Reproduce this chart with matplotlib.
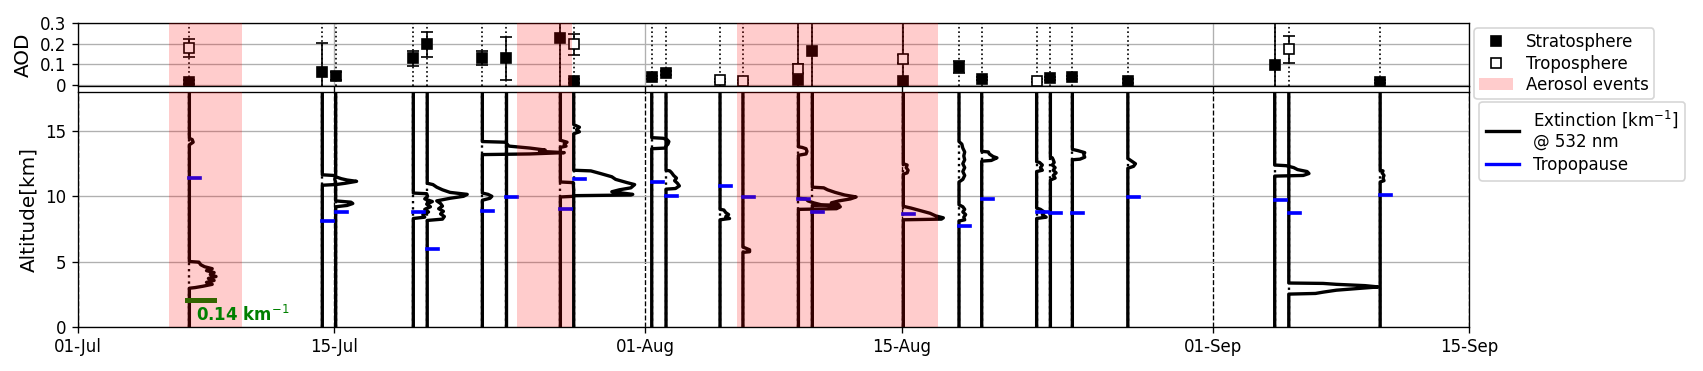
import numpy as np
import matplotlib
matplotlib.use("Agg")
import matplotlib.pyplot as plt
import matplotlib.dates as mdates
from matplotlib.lines import Line2D
from matplotlib.patches import Patch
from datetime import datetime

# days after 01-Jul for each lidar profile
days = [6.10, 13.36, 14.09, 18.33, 19.09, 22.10, 23.37, 26.36, 27.09, 31.35,
        32.13, 35.08, 36.33, 39.36, 40.12, 45.09, 48.13, 49.37, 52.37, 53.12,
        54.32, 57.35, 65.37, 66.14, 71.13]
trop_z = [11.38, 8.13, 8.8, 8.77, 5.93, 8.85, 9.92, 9.0, 11.3, 11.1,
          10.0, 10.8, 9.92, 9.77, 8.8, 8.62, 7.7, 9.77, 8.77, 8.7,
          8.7, 9.92, 9.7, 8.7, 10.08]
nan = np.nan
strat_aod = [0.013, 0.064, 0.044, 0.128, 0.197, 0.13, 0.128, 0.226, 0.018, 0.036,
             0.056, nan, nan, 0.021, 0.164, 0.018, 0.087, 0.03, nan, 0.031,
             0.036, 0.018, 0.098, nan, 0.015]
strat_err = [0.008, 0.142, 0.02, 0.039, 0.06, 0.033, 0.107, 0.4, 0.008, 0.008,
             0.01, nan, nan, 0.4, 0.4, 0.4, 0.03, 0.008, nan, 0.008,
             0.008, 0.008, 0.4, nan, 0.008]
trop_aod = [0.18, nan, nan, nan, nan, nan, nan, nan, 0.197, nan,
            nan, 0.021, 0.016, 0.079, nan, 0.125, nan, nan, 0.02, nan,
            nan, nan, nan, 0.172, nan]
trop_err = [0.044, nan, nan, nan, nan, nan, nan, nan, 0.053, nan,
            nan, 0.008, 0.008, 0.02, nan, 0.02, nan, nan, 0.008, nan,
            nan, nan, nan, 0.065, nan]

# aerosol layers: altitude [km] and extinction [km-1] for each profile
layer_z = [
    [2.95, 3.0, 3.1, 3.25, 3.4, 3.55, 3.7, 3.85, 4.0, 4.15, 4.3, 4.45, 4.6, 4.75, 4.85, 4.95, 5.0,
     13.95, 14.15, 14.35, 14.45],
    [10.85, 10.9, 11.1, 11.3, 11.5, 11.6, 11.65],
    [9.2, 9.3, 9.45, 9.55, 9.65, 10.9, 11.0, 11.15, 11.25, 11.35, 11.5],
    [8.3, 8.4, 8.6, 8.8, 9.0, 9.2, 9.4, 9.6, 9.8, 10.0, 10.2, 10.25],
    [8.15, 8.25, 8.45, 8.65, 8.85, 9.05, 9.25, 9.45, 9.65, 9.85, 10.0, 10.15, 10.3, 10.5, 10.7, 10.9, 11.0],
    [9.7, 9.85, 10.0, 10.15, 10.25, 13.2, 13.25, 13.35, 13.45, 13.55, 13.7, 13.85, 14.0, 14.15, 14.2],
    [],
    [9.95, 10.0, 10.5, 11.05, 11.1, 13.75, 13.85, 14.0, 14.15, 14.3],
    [10.05, 10.1, 10.15, 10.35, 10.5, 10.65, 10.9, 11.05, 11.3, 11.5, 11.75, 11.95, 12.0,
     14.8, 14.95, 15.1, 15.3, 15.5],
    [13.65, 13.7, 13.85, 14.0, 14.2, 14.35, 14.45, 14.5],
    [10.55, 10.6, 10.8, 11.0, 11.2, 11.4, 11.6, 11.8, 11.95, 12.0],
    [8.2, 8.3, 8.45, 8.6, 8.75, 8.95, 9.0],
    [5.7, 5.75, 5.9, 6.05, 6.1],
    [9.0, 9.05, 9.2, 9.35, 9.5, 9.65, 9.8, 9.85, 13.15, 13.25, 13.45, 13.65, 13.75, 13.8],
    [9.3, 9.35, 9.5, 9.65, 9.8, 9.95, 10.1, 10.3, 10.5, 10.65, 10.7],
    [8.2, 8.25, 8.35, 8.5, 8.7, 8.9, 9.1, 9.2, 9.25, 11.7, 11.8, 12.0, 12.2, 12.4, 12.5],
    [8.1, 8.2, 8.4, 8.6, 8.8, 9.0, 9.2, 9.35, 11.1, 11.3, 11.6, 11.9, 12.2, 12.5, 12.8, 13.1,
     13.4, 13.7, 14.0, 14.2],
    [12.7, 12.75, 12.95, 13.05, 13.25, 13.4, 13.45],
    [8.3, 8.4, 8.6, 8.8, 9.0, 9.1, 11.9, 12.0, 12.2, 12.4, 12.6, 12.65],
    [11.25, 11.4, 11.6, 11.8, 12.0, 12.2, 12.4, 12.6, 12.8, 12.95, 13.0],
    [12.8, 12.85, 13.0, 13.2, 13.35, 13.5, 13.6],
    [12.15, 12.3, 12.5, 12.7, 12.9],
    [11.55, 11.6, 11.75, 11.9, 12.05, 12.2, 12.35, 12.4],
    [2.5, 2.55, 2.65, 2.8, 2.95, 3.05, 3.15, 3.25, 3.32, 3.35],
    [11.1, 11.2, 11.4, 11.6, 11.8, 11.95, 12.0],
]
layer_ext = [
    [0, 0.03, 0.07, 0.12, 0.09, 0.13, 0.10, 0.14, 0.11, 0.13, 0.09, 0.12, 0.08, 0.06, 0.055, 0.05, 0,
     0, 0.02, 0.015, 0],
    [0, 0.065, 0.07, 0.065, 0.07, 0.06, 0],
    [0, 0.06, 0.09, 0.08, 0, 0, 0.05, 0.11, 0.06, 0.03, 0],
    [0, 0.06, 0.05, 0.08, 0.06, 0.09, 0.07, 0.1, 0.06, 0.075, 0.07, 0],
    [0, 0.08, 0.09, 0.07, 0.085, 0.06, 0.08, 0.07, 0.05, 0.12, 0.19, 0.21, 0.12, 0.08, 0.05, 0.03, 0],
    [0, 0.04, 0.05, 0.03, 0, 0, 0.25, 0.43, 0.3, 0.33, 0.25, 0.14, 0.13, 0.12, 0],
    [],
    [0, 0.07, 0.07, 0.068, 0, 0, 0.03, 0.02, 0.035, 0],
    [0, 0.3, 0.31, 0.2, 0.24, 0.3, 0.32, 0.28, 0.22, 0.2, 0.14, 0.09, 0,
     0, 0.03, 0.015, 0.03, 0],
    [0, 0.07, 0.075, 0.085, 0.09, 0.08, 0.06, 0],
    [0, 0.05, 0.07, 0.06, 0.045, 0.055, 0.04, 0.03, 0.02, 0],
    [0, 0.05, 0.03, 0.045, 0.03, 0.02, 0],
    [0, 0.035, 0.035, 0.01, 0],
    [0, 0.2, 0.22, 0.12, 0.08, 0.05, 0.04, 0, 0, 0.04, 0.045, 0.04, 0.02, 0],
    [0, 0.14, 0.1, 0.14, 0.2, 0.23, 0.17, 0.12, 0.08, 0.06, 0],
    [0, 0.2, 0.21, 0.17, 0.14, 0.09, 0.04, 0.01, 0, 0, 0.02, 0.025, 0.015, 0.02, 0],
    [0, 0.03, 0.025, 0.035, 0.02, 0.03, 0.02, 0, 0, 0.02, 0.03, 0.02, 0.03, 0.02, 0.03, 0.025,
     0.03, 0.02, 0.015, 0],
    [0, 0.05, 0.08, 0.06, 0.04, 0.035, 0],
    [0, 0.05, 0.03, 0.04, 0.02, 0, 0, 0.03, 0.02, 0.03, 0.015, 0],
    [0, 0.025, 0.015, 0.03, 0.015, 0.025, 0.01, 0.02, 0.015, 0.01, 0],
    [0, 0.04, 0.065, 0.06, 0.065, 0.03, 0],
    [0, 0.03, 0.04, 0.02, 0],
    [0, 0.15, 0.18, 0.17, 0.12, 0.1, 0.06, 0],
    [0, 0.14, 0.18, 0.25, 0.38, 0.47, 0.4, 0.25, 0.18, 0],
    [0, 0.02, 0.015, 0.02, 0.01, 0.015, 0],
]
events = [(5.0, 9.0), (24.0, 27.0), (36.0, 47.0)]
tick_days = [0, 14, 31, 45, 62, 76]

SCALE = 10.4      # days of x-axis per km-1
t0 = mdates.date2num(datetime(2019, 7, 1))

fig = plt.figure(figsize=(1703 / 120, 371 / 120), dpi=120)
ax1 = fig.add_axes([0.0456, 0.7674, 0.8172, 0.1698])
ax2 = fig.add_axes([0.0456, 0.1194, 0.8172, 0.6326])

# ---- top: AOD
for i, d in enumerate(days):
    ax1.axvline(t0 + d, color="k", ls=":", lw=1, zorder=2)
x = t0 + np.array(days)
ax1.errorbar(x, trop_aod, yerr=trop_err, fmt="s", ms=6, mfc="white", mec="k",
             ecolor="k", elinewidth=1, capsize=3.5, zorder=3)
ax1.errorbar(x, strat_aod, yerr=strat_err, fmt="s", ms=6, color="k",
             elinewidth=1, capsize=3.5, zorder=3)
ax1.set_ylim(-0.008, 0.3)
ax1.set_yticks([0, 0.1, 0.2, 0.3])
ax1.set_yticklabels(["0", "0.1", "0.2", "0.3"])
ax1.set_ylabel("AOD", fontsize=12)
ax1.grid(True, color="#b0b0b0")

# ---- bottom: extinction profiles
for i, d in enumerate(days):
    xb = t0 + d
    z = [0] + layer_z[i] + [18]
    e = np.array([0] + layer_ext[i] + [0])
    ax2.plot([xb, xb], [0, 18], color="k", ls=":", lw=1.4, zorder=2)
    ax2.plot(xb + SCALE * e, z, color="k", lw=2.0, zorder=3)
    ax2.plot([xb, xb + 0.6], [trop_z[i], trop_z[i]], color="blue", lw=2.2, zorder=4)

ax2.plot([t0 + 5.98, t0 + 5.98 + 0.14 * SCALE], [2.07, 2.07], color="green", lw=3, zorder=4)
ax2.text(t0 + 6.46, 0.9, "0.14 km$^{-1}$", color="green", fontweight="bold",
         fontsize=10, va="center", ha="left", zorder=6)

ax2.set_ylim(0, 18)
ax2.set_yticks([0, 5, 10, 15])
ax2.set_ylabel("Altitude[km]", fontsize=12)
ax2.grid(axis="y", color="#b0b0b0")
ax2.grid(axis="x", color="k", ls="--", lw=0.8)

for ax in (ax1, ax2):
    for a, b in events:
        ax.axvspan(t0 + a, t0 + b, color="red", alpha=0.2, lw=0, zorder=5)
    ax.set_xlim(t0, t0 + 76)
    ax.set_xticks([t0 + t for t in tick_days])
    ax.xaxis.set_major_formatter(mdates.DateFormatter("%d-%b"))
    ax.tick_params(labelsize=10)
ax1.tick_params(labelbottom=False)

h1 = [Line2D([], [], marker="s", color="k", ls="none", ms=6),
      Line2D([], [], marker="s", mfc="white", mec="k", ls="none", ms=6),
      Patch(facecolor="red", alpha=0.2)]
ax1.legend(h1, ["Stratosphere", "Troposphere", "Aerosol events"], loc="upper left",
           bbox_to_anchor=(1.0, 1.0), borderaxespad=0.3, fontsize=10,
           labelspacing=0.2, borderpad=0.3)
h2 = [Line2D([], [], color="k", lw=2), Line2D([], [], color="blue", lw=2)]
ax2.legend(h2, ["Extinction [km$^{-1}$]\n@ 532 nm", "Tropopause"], loc="upper left",
           bbox_to_anchor=(1.0, 1.0), borderaxespad=0.6, fontsize=10,
           labelspacing=0.3, borderpad=0.4)

fig.savefig("out.png", dpi=120)
